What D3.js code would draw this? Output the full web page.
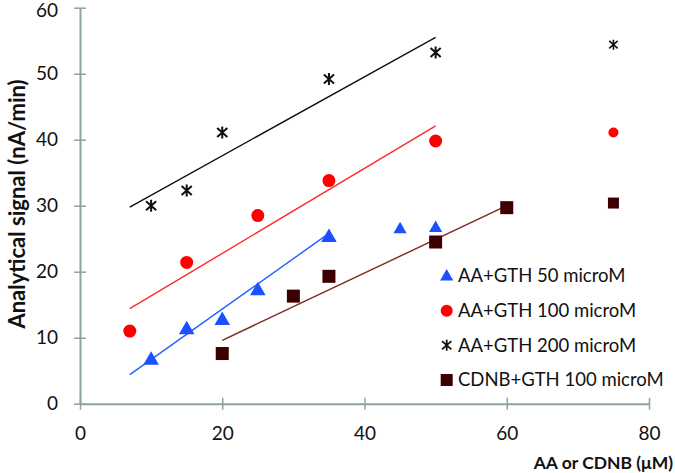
<!DOCTYPE html>
<html><head><meta charset="utf-8">
<script src="https://cdn.jsdelivr.net/npm/d3@7"></script>
<style>body{margin:0;background:#fff}svg{display:block}text{font-family:Lato,"Open Sans",sans-serif}</style>
</head><body><svg id="c" width="675" height="473"></svg>
<script>
const seriesNames = ["AA+GTH 50 microM","AA+GTH 100 microM","AA+GTH 200 microM","CDNB+GTH 100 microM"];
const xTicks = [0,20,40,60,80];
const yTicks = [0,10,20,30,40,50,60];
const blueX = [10,15,20,25,35,45,50];
const blueY = [6.6,11.2,12.6,17.1,25.2,26.4,26.6];
const redX = [7,15,25,35,50,75];
const redY = [11.0,21.4,28.5,33.8,39.8,41.1];
const blackX = [10,15,20,35,50,75];
const blackY = [30.0,32.3,41.1,49.2,53.2,54.4];
const brownX = [20,30,35,50,60,75];
const brownY = [7.6,16.3,19.3,24.5,29.7,30.4];
// trend lines [x1,y1,x2,y2]
const blueTrend = [7,4.4,35,25.8];
const redTrend = [7,14.4,50,42.1];
const blackTrend = [7,29.8,50,55.5];
const brownTrend = [20,9.6,60,30.0];

const svg = d3.select("#c");
const x = d3.scaleLinear().domain([0,80]).range([80,649]);
const y = d3.scaleLinear().domain([0,60]).range([403.7,7.7]);
const axisColor = "#8fa3a6";

const gx = svg.append("g").attr("transform",`translate(0,${y(0)})`)
  .call(d3.axisBottom(x).tickValues(xTicks).tickSizeInner(6).tickSizeOuter(0).tickPadding(17));
gx.selectAll(".tick line").attr("y1",-6).attr("y2",6);
const gy = svg.append("g").attr("transform",`translate(${x(0)},0)`)
  .call(d3.axisLeft(y).tickValues(yTicks).tickSizeInner(6).tickSizeOuter(0).tickPadding(16));
gy.selectAll(".tick line").attr("x1",-6).attr("x2",6);
[gx,gy].forEach(g=>{
  g.select(".domain").attr("stroke",axisColor).attr("stroke-width",2);
  g.selectAll(".tick line").attr("stroke",axisColor).attr("stroke-width",1.5);
  g.selectAll(".tick text").attr("fill","#111").style("font-size","19px").style("font-family","Lato,sans-serif");
});
gx.selectAll(".tick text").attr("dy","0.71em");
gy.selectAll(".tick text").filter(d=>d===60).attr("dy","0.45em");

function trend(t,color){
  svg.append("line").attr("x1",x(t[0])).attr("y1",y(t[1])).attr("x2",x(t[2])).attr("y2",y(t[3]))
    .attr("stroke",color).attr("stroke-width",1.4);
}
trend(blackTrend,"#111");
trend(redTrend,"#ff2a2a");
trend(blueTrend,"#2060ff");
trend(brownTrend,"#7a2a1e");

const blue="#1a50ff", red="#ff0000", brown="#3d0000";
function tri(g,cx,cy,s){g.append("path").attr("d",d3.symbol(d3.symbolTriangle,s)()).attr("transform",`translate(${cx},${cy})`).attr("fill",blue);}
function circ(g,cx,cy,r){g.append("circle").attr("cx",cx).attr("cy",cy).attr("r",r).attr("fill",red);}
function sq(g,cx,cy,w){g.append("rect").attr("x",cx-w/2).attr("y",cy-w/2).attr("width",w).attr("height",w).attr("fill",brown);}
function star(g,cx,cy,h,sw){
  const p=`M${cx},${cy-h}L${cx},${cy+h}M${cx-h*0.85},${cy-h*0.75}L${cx+h*0.85},${cy+h*0.75}M${cx-h*0.85},${cy+h*0.75}L${cx+h*0.85},${cy-h*0.75}`;
  g.append("path").attr("d",p).attr("stroke","#111").attr("stroke-width",sw).attr("fill","none");
}
const pts = svg.append("g");
blueX.forEach((v,i)=>tri(pts,x(v),y(blueY[i]),i>=5?75:105));
redX.forEach((v,i)=>circ(pts,x(v),y(redY[i]),i==5?5:6.5));
blackX.forEach((v,i)=>star(pts,x(v),y(blackY[i]),i==5?5:6,i==5?1.6:2));
brownX.forEach((v,i)=>sq(pts,x(v),y(brownY[i]),i==5?11:13));

const lg = svg.append("g");
const rows=[275.7,310.7,345.3,380];
const mx=446.7;
tri(lg,mx,rows[0]+1,75); circ(lg,mx,rows[1],6); star(lg,mx,rows[2],5.5,1.8); sq(lg,mx,rows[3],12);
seriesNames.forEach((n,i)=>lg.append("text").attr("x",458).attr("y",rows[i]).attr("dy","0.35em")
  .style("font-size","18.5px").attr("fill","#111").text(n));

svg.append("text").attr("x",673).attr("y",463).attr("text-anchor","end").attr("dy","0.35em")
  .style("font-size","17.5px").style("font-weight","bold").attr("fill","#111").text("AA or CDNB (μM)");
svg.append("text").attr("transform","translate(17,204) rotate(-90)").attr("text-anchor","middle").attr("dy","0.35em")
  .style("font-size","22px").style("font-weight","bold").attr("fill","#111").text("Analytical signal (nA/min)");
</script></body></html>
